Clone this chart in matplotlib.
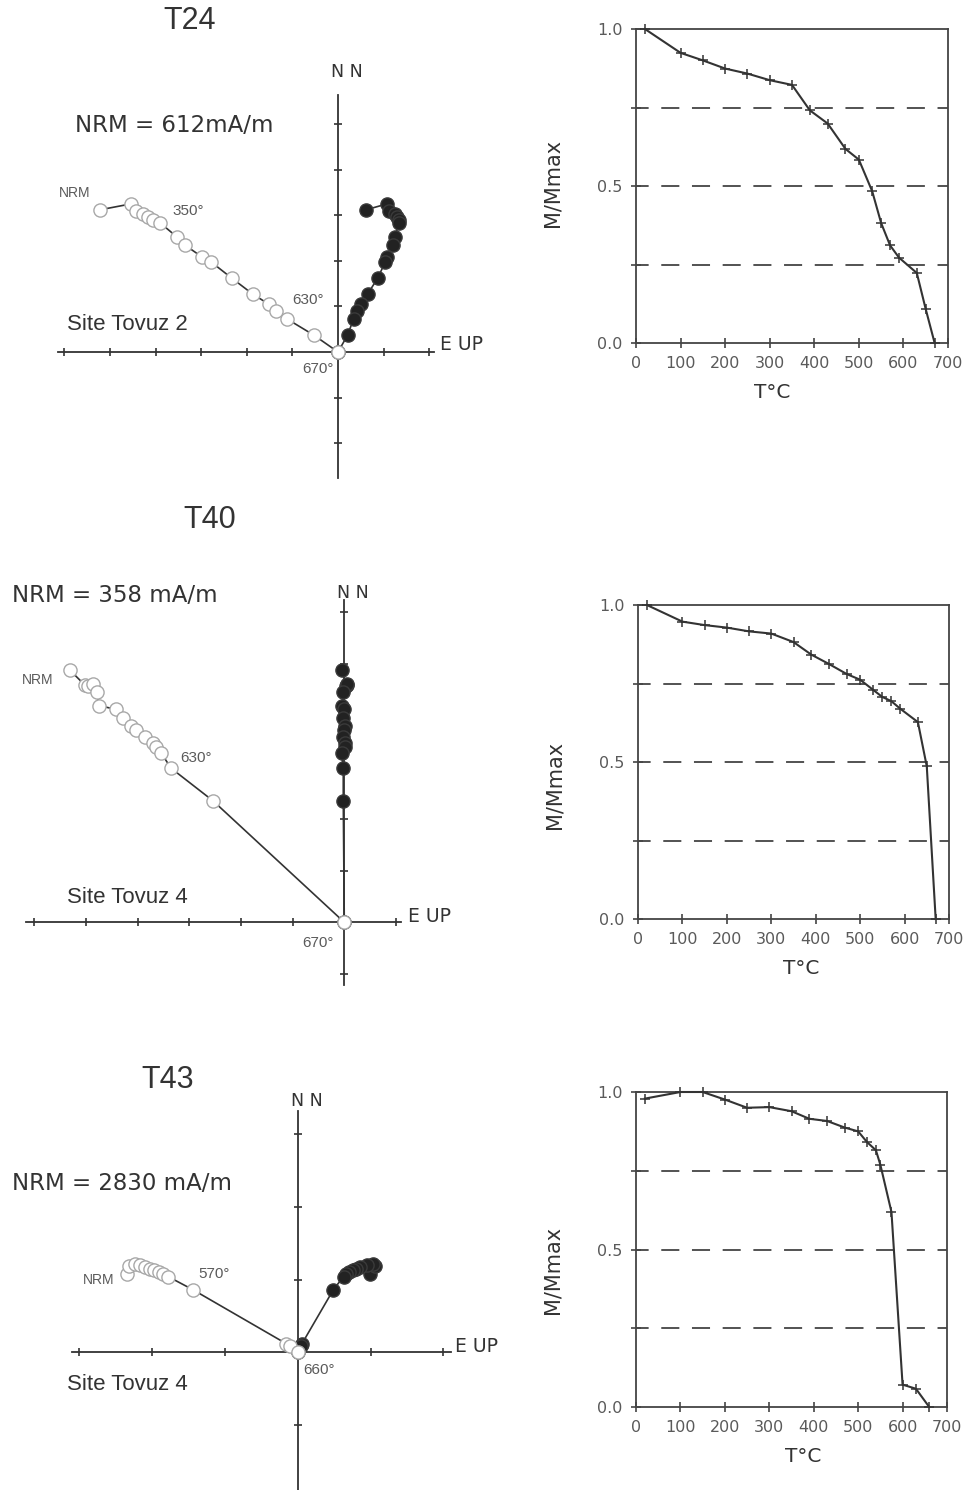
import matplotlib.pyplot as plt

W, H = 969, 1490

# ---- Zijderveld data (shared N axis, E = filled, UP = open) ----
# T24, Site Tovuz 2
t24_north = [3.12, 3.25, 3.10, 3.02, 2.96, 2.90, 2.83, 2.53, 2.34, 2.09, 1.98, 1.62, 1.27, 1.05, 0.90, 0.72, 0.37, 0.0]
t24_up = [-5.21, -4.53, -4.43, -4.27, -4.16, -4.05, -3.90, -3.54, -3.35, -2.99, -2.79, -2.33, -1.87, -1.52, -1.36, -1.11, -0.53, 0.0]
t24_east = [0.62, 1.08, 1.11, 1.26, 1.30, 1.33, 1.33, 1.26, 1.21, 1.08, 1.04, 0.87, 0.65, 0.51, 0.42, 0.34, 0.21, 0.0]

# T40, Site Tovuz 4
t40_north = [4.88, 4.59, 4.57, 4.61, 4.46, 4.19, 4.12, 3.96, 3.80, 3.71, 3.59, 3.46, 3.39, 3.27, 2.98, 2.35, 0.0]
t40_up = [-5.31, -5.02, -4.95, -4.87, -4.79, -4.74, -4.42, -4.29, -4.12, -4.02, -3.86, -3.70, -3.65, -3.54, -3.35, -2.54, 0.0]
t40_east = [-0.05, 0.05, 0.03, 0.06, -0.02, -0.05, 0.0, -0.02, 0.02, 0.0, -0.03, 0.01, 0.02, -0.05, -0.02, -0.02, 0.0]

# T43, Site Tovuz 4
t43_north = [1.07, 1.18, 1.21, 1.20, 1.17, 1.15, 1.13, 1.10, 1.08, 1.04, 0.86, 0.12, 0.08, 0.0]
t43_up = [-2.35, -2.32, -2.24, -2.16, -2.10, -2.03, -1.97, -1.91, -1.85, -1.78, -1.44, -0.16, -0.11, 0.0]
t43_east = [0.99, 1.06, 1.04, 0.95, 0.86, 0.80, 0.76, 0.70, 0.66, 0.63, 0.49, 0.06, 0.04, 0.0]

# ---- Thermal demagnetisation curves ----
t24_temp = [20, 100, 150, 200, 250, 300, 350, 390, 430, 470, 500, 530, 550, 570, 590, 630, 650, 670]
t24_m = [1.0, 0.924, 0.900, 0.874, 0.858, 0.837, 0.822, 0.741, 0.699, 0.618, 0.584, 0.483, 0.382, 0.311, 0.272, 0.223, 0.108, 0.0]

t40_temp = [20, 100, 150, 200, 250, 300, 350, 390, 430, 470, 500, 530, 550, 570, 590, 630, 650, 670]
t40_m = [1.0, 0.947, 0.936, 0.928, 0.916, 0.909, 0.882, 0.842, 0.812, 0.780, 0.762, 0.729, 0.707, 0.694, 0.670, 0.627, 0.486, 0.0]

t43_temp = [20, 100, 150, 200, 250, 300, 350, 390, 430, 470, 500, 520, 540, 550, 575, 600, 630, 660]
t43_m = [0.979, 1.0, 1.0, 0.976, 0.950, 0.952, 0.939, 0.915, 0.908, 0.887, 0.875, 0.841, 0.815, 0.769, 0.619, 0.071, 0.058, 0.0]

x_ticks = [0, 100, 200, 300, 400, 500, 600, 700]
y_ticks = [0.0, 0.25, 0.5, 0.75, 1.0]
y_ticklabels = ["0.0", "", "0.5", "", "1.0"]

DARK = "#333333"
GREY = "#5a5a5a"
ARIAL = "Liberation Sans"
WIDE = "DejaVu Sans"


def px(x, y):
    return x / W, 1 - y / H


def label(fig, x, y, s, size, family=ARIAL, color=DARK, ha="left"):
    fx, fy = px(x, y)
    fig.text(fx, fy, s, fontsize=size, family=family, color=color, ha=ha, va="center")


def zijderveld(fig, box, origin, scale, h_range, v_range, h_ticks, v_ticks, north, east, up):
    x0, y0, x1, y1 = box
    ax = fig.add_axes([x0 / W, 1 - y1 / H, (x1 - x0) / W, (y1 - y0) / H])
    ox, oy = origin
    ax.set_xlim((x0 - ox) / scale, (x1 - ox) / scale)
    ax.set_ylim((oy - y1) / scale, (oy - y0) / scale)
    ax.axis("off")

    ax.plot(h_range, [0, 0], color=DARK, lw=1.3, clip_on=False)
    ax.plot([0, 0], v_range, color=DARK, lw=1.3, clip_on=False)
    ax.plot(h_ticks, [0] * len(h_ticks), ls="none", marker="|", ms=6, mew=1.2, color=DARK)
    ax.plot([0] * len(v_ticks), v_ticks, ls="none", marker="_", ms=6, mew=1.2, color=DARK)

    # filled = horizontal (E), open = vertical (UP)
    ax.plot(east, north, "-", color=DARK, lw=1.2, marker="o", ms=9.5,
            mfc="#222222", mec="#3a3a3a", mew=1, zorder=3, clip_on=False)
    ax.plot(up, north, "-", color=DARK, lw=1.2, marker="o", ms=9.5,
            mfc="white", mec="#a8a8a8", mew=1, zorder=4, clip_on=False)
    return ax


def demag(fig, box, temps, mags, xlab_x, ylab_y):
    x0, y0, x1, y1 = box
    ax = fig.add_axes([x0 / W, 1 - y1 / H, (x1 - x0) / W, (y1 - y0) / H])
    for level in (0.25, 0.5, 0.75):
        ax.axhline(level, color="#444444", lw=1.3, ls=(3, (10, 7)), zorder=1)
    ax.plot(temps, mags, color=DARK, lw=1.5, marker="+", ms=7, mew=1.1, zorder=3, clip_on=False)

    ax.set_xlim(0, 700)
    ax.set_ylim(0, 1)
    ax.set_xticks(x_ticks)
    ax.set_yticks(y_ticks)
    ax.set_yticklabels(y_ticklabels)
    ax.tick_params(direction="inout", length=7, width=1.2, color="#444444",
                   labelcolor=GREY, labelsize=11.5, pad=6)
    for t in ax.get_xticklabels() + ax.get_yticklabels():
        t.set_family(WIDE)
    for sp in ax.spines.values():
        sp.set_color("#444444")
        sp.set_linewidth(1.3)

    ax.set_xlabel("T°C", fontsize=14.5, family=WIDE, color=DARK)
    ax.xaxis.set_label_coords(xlab_x, -0.128)
    ax.set_ylabel("M/Mmax", fontsize=15, family=WIDE, color=DARK)
    ax.yaxis.set_label_coords(-0.237, ylab_y)
    return ax


def main():
    fig = plt.figure(figsize=(W / 100, H / 100), dpi=100)

    # ---------- T24 ----------
    zijderveld(fig, (0, 0, 520, 490), (338, 352), 45.6,
               [-6.15, 2.1], [-2.76, 5.63], [-6, -5, -4, -3, -2, -1, 1, 2], [-2, -1, 1, 2, 3, 4, 5],
               t24_north, t24_east, t24_up)
    label(fig, 190, 21, "T24", 22, ha="center")
    label(fig, 75, 126, "NRM = 612mA/m", 16.5, family=WIDE)
    label(fig, 59, 193, "NRM", 10, color=GREY)
    label(fig, 172, 211, "350°", 11, color=GREY)
    label(fig, 292, 300, "630°", 11, color=GREY)
    label(fig, 67, 324, "Site Tovuz 2", 16)
    label(fig, 302, 369, "670°", 11, color=GREY)
    label(fig, 331, 72, "N N", 12.5, family=WIDE)
    label(fig, 440, 345, "E UP", 13.5, family=WIDE)

    demag(fig, (636, 29, 948, 343), t24_temp, t24_m, 0.436, 0.51)

    # ---------- T40 ----------
    zijderveld(fig, (0, 540, 520, 1000), (344.3, 922.3), 51.7,
               [-6.16, 1.1], [-1.22, 6.24], [-6, -5, -4, -3, -2, -1, 1], [-1, 1, 2, 3, 4, 5, 6],
               t40_north, t40_east, t40_up)
    label(fig, 210, 520, "T40", 22, ha="center")
    label(fig, 12, 596, "NRM = 358 mA/m", 16.5, family=WIDE)
    label(fig, 22, 680, "NRM", 10, color=GREY)
    label(fig, 180, 758, "630°", 11, color=GREY)
    label(fig, 67, 897, "Site Tovuz 4", 16)
    label(fig, 302, 943, "670°", 11, color=GREY)
    label(fig, 337, 593, "N N", 12.5, family=WIDE)
    label(fig, 408, 917, "E UP", 13.5, family=WIDE)

    demag(fig, (638, 605, 949, 919), t40_temp, t40_m, 0.524, 0.427)

    # ---------- T43 ----------
    zijderveld(fig, (0, 1060, 520, 1490), (297.7, 1352.3), 72.8,
               [-3.1, 2.1], [-1.95, 3.32], [-3, -2, -1, 1, 2], [-1, 1, 2, 3],
               t43_north, t43_east, t43_up)
    label(fig, 168, 1080, "T43", 22, ha="center")
    label(fig, 12, 1183, "NRM = 2830 mA/m", 16.5, family=WIDE)
    label(fig, 83, 1280, "NRM", 10, color=GREY)
    label(fig, 198, 1274, "570°", 11, color=GREY)
    label(fig, 67, 1385, "Site Tovuz 4", 16)
    label(fig, 303, 1370, "660°", 11, color=GREY)
    label(fig, 291, 1101, "N N", 12.5, family=WIDE)
    label(fig, 455, 1346, "E UP", 13.5, family=WIDE)

    demag(fig, (636, 1092, 947, 1407), t43_temp, t43_m, 0.537, 0.435)

    fig.savefig("out.png", dpi=100)


if __name__ == "__main__":
    main()
